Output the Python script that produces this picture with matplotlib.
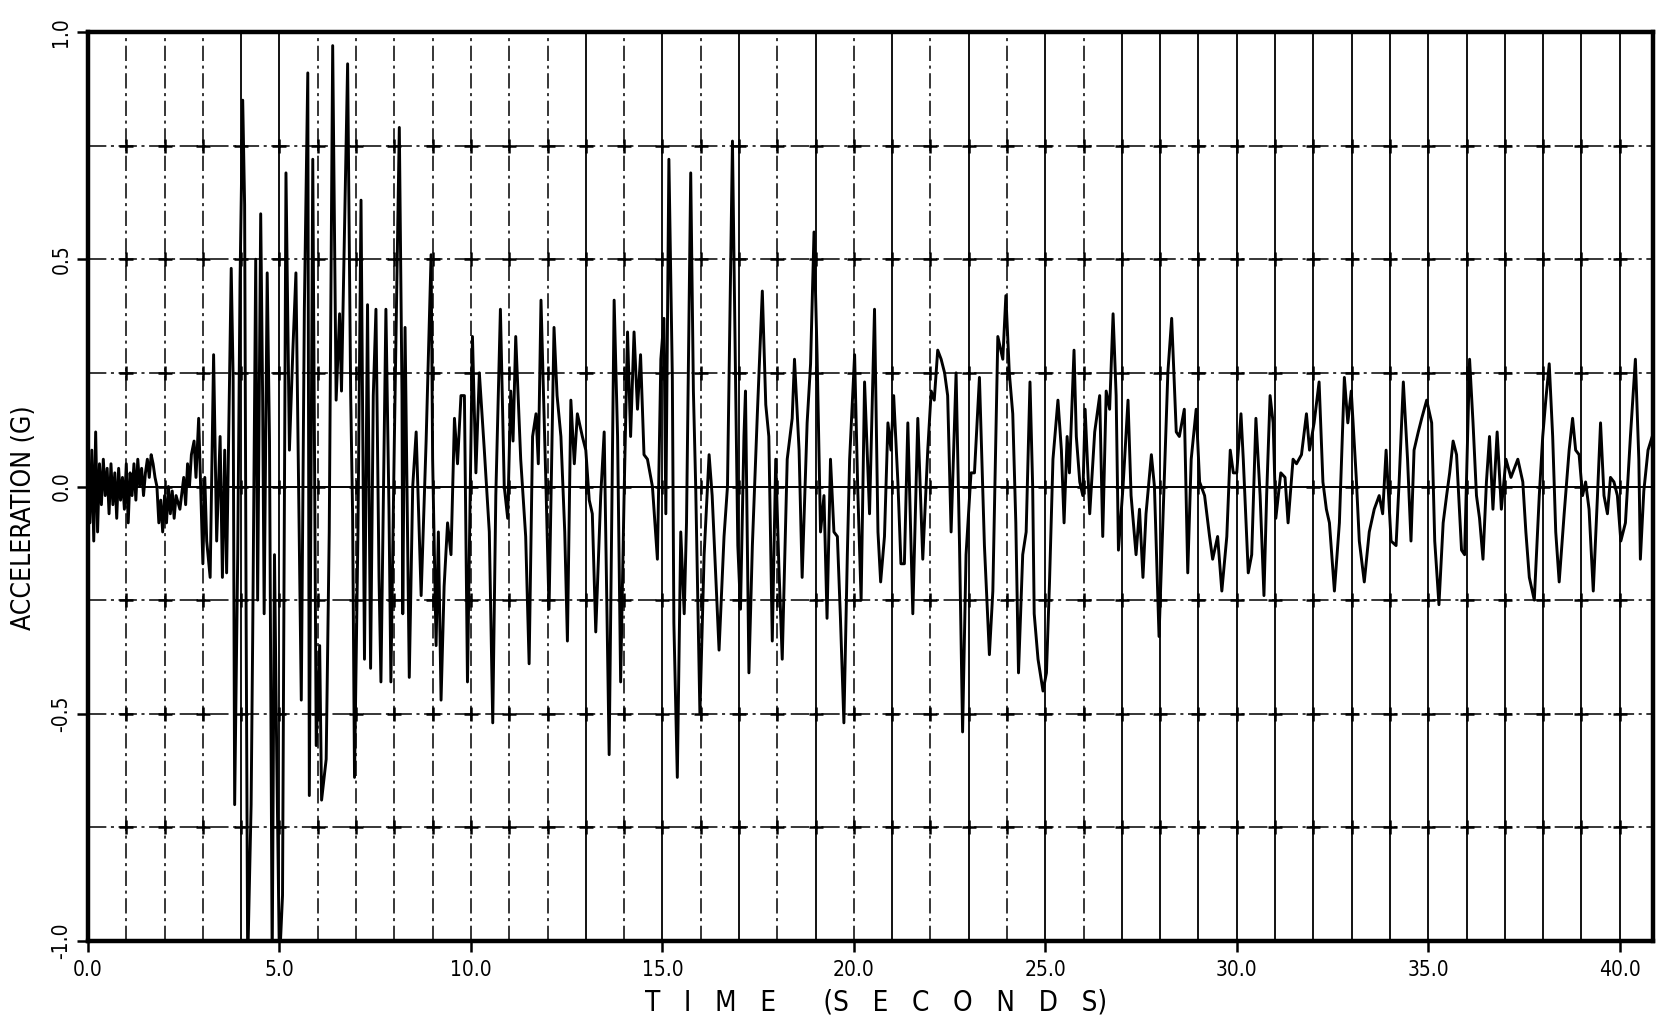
import matplotlib
matplotlib.use("Agg")
import matplotlib.pyplot as plt

# ---------------- data ----------------
time_s = [
    0.00, 0.05, 0.10, 0.15, 0.20, 0.25, 0.30, 0.35, 0.40, 0.45, 0.50, 0.55, 0.60, 0.65, 0.70, 0.75,
    0.80, 0.85, 0.90, 0.95, 1.00, 1.05, 1.10, 1.15, 1.20, 1.25, 1.30, 1.35, 1.40, 1.45, 1.50, 1.55,
    1.60, 1.65, 1.70, 1.75, 1.80, 1.85, 1.90, 1.95, 2.00, 2.05, 2.10, 2.15, 2.20, 2.25, 2.30, 2.40,
    2.50, 2.55, 2.60, 2.65, 2.70, 2.77, 2.82, 2.89, 3.00, 3.05, 3.10, 3.19, 3.28, 3.36, 3.45, 3.51,
    3.57, 3.62, 3.74, 3.79, 3.83, 3.91, 3.97, 4.04, 4.09, 4.13, 4.17, 4.22, 4.26, 4.30, 4.38, 4.43,
    4.51, 4.56, 4.60, 4.68, 4.74, 4.81, 4.87, 4.93, 5.00, 5.08, 5.17, 5.26, 5.35, 5.43, 5.57, 5.65,
    5.74, 5.78, 5.87, 5.96, 6.05, 6.10, 6.22, 6.30, 6.39, 6.48, 6.57, 6.62, 6.78, 6.86, 6.91, 6.96,
    7.05, 7.13, 7.22, 7.30, 7.38, 7.45, 7.52, 7.60, 7.65, 7.78, 7.86, 7.91, 8.00, 8.13, 8.20, 8.22,
    8.28, 8.39, 8.48, 8.57, 8.70, 8.83, 8.96, 9.00, 9.09, 9.15, 9.22, 9.30, 9.39, 9.48, 9.57, 9.65,
    9.74, 9.83, 9.91, 10.04, 10.13, 10.22, 10.35, 10.48, 10.57, 10.65, 10.77, 10.87, 10.96, 11.04,
    11.10, 11.17, 11.30, 11.43, 11.52, 11.61, 11.70, 11.76, 11.83, 11.96, 12.04, 12.17, 12.25, 12.35,
    12.45, 12.52, 12.61, 12.70, 12.78, 12.91, 13.00, 13.09, 13.17, 13.26, 13.39, 13.48, 13.61, 13.74,
    13.83, 13.91, 14.00, 14.09, 14.17, 14.26, 14.35, 14.43, 14.52, 14.61, 14.74, 14.87, 14.96, 15.04,
    15.09, 15.17, 15.26, 15.30, 15.39, 15.48, 15.57, 15.63, 15.74, 15.81, 15.87, 15.98, 16.09, 16.22,
    16.30, 16.48, 16.61, 16.70, 16.83, 16.91, 16.97, 17.04, 17.13, 17.17, 17.26, 17.35, 17.48, 17.61,
    17.70, 17.78, 17.87, 17.96, 18.04, 18.13, 18.26, 18.39, 18.45, 18.57, 18.65, 18.78, 18.87, 18.96,
    19.04, 19.13, 19.22, 19.30, 19.39, 19.48, 19.57, 19.65, 19.74, 19.83, 19.89, 20.02, 20.10, 20.19,
    20.28, 20.41, 20.54, 20.63, 20.70, 20.80, 20.89, 20.97, 21.04, 21.15, 21.23, 21.32, 21.41, 21.54,
    21.67, 21.80, 21.93, 22.02, 22.10, 22.19, 22.28, 22.37, 22.45, 22.54, 22.67, 22.76, 22.84, 22.93,
    23.06, 23.15, 23.28, 23.41, 23.54, 23.63, 23.76, 23.89, 23.97, 24.06, 24.15, 24.23, 24.30, 24.41,
    24.50, 24.60, 24.67, 24.71, 24.81, 24.94, 25.03, 25.11, 25.20, 25.33, 25.42, 25.49, 25.57, 25.63,
    25.75, 25.81, 25.90, 25.98, 26.04, 26.16, 26.29, 26.42, 26.50, 26.59, 26.68, 26.77, 26.85, 26.91,
    27.03, 27.16, 27.24, 27.37, 27.46, 27.55, 27.63, 27.77, 27.85, 27.97, 28.07, 28.20, 28.30, 28.42,
    28.50, 28.63, 28.72, 28.81, 28.94, 29.03, 29.16, 29.29, 29.37, 29.50, 29.61, 29.74, 29.83, 29.91,
    30.00, 30.11, 30.17, 30.30, 30.39, 30.50, 30.61, 30.71, 30.78, 30.87, 30.95, 31.02, 31.15, 31.26,
    31.34, 31.47, 31.56, 31.69, 31.82, 31.90, 32.02, 32.15, 32.25, 32.34, 32.42, 32.55, 32.68, 32.81,
    32.90, 32.99, 33.12, 33.20, 33.33, 33.46, 33.59, 33.72, 33.81, 33.90, 34.03, 34.16, 34.24, 34.35,
    34.46, 34.55, 34.63, 34.74, 34.83, 34.96, 35.09, 35.17, 35.28, 35.39, 35.48, 35.56, 35.65, 35.74,
    35.87, 35.95, 36.08, 36.17, 36.26, 36.34, 36.43, 36.52, 36.60, 36.69, 36.80, 36.91, 37.03, 37.16,
    37.34, 37.47, 37.55, 37.64, 37.77, 37.90, 37.99, 38.07, 38.16, 38.25, 38.33, 38.42, 38.55, 38.68,
    38.77, 38.85, 38.94, 39.03, 39.11, 39.20, 39.31, 39.42, 39.50, 39.59, 39.68, 39.76, 39.85, 39.94,
    40.03, 40.15, 40.28, 40.41, 40.50, 40.54, 40.63, 40.74, 40.85,
]

accel_g = [
    0.02, -0.08, 0.08, -0.12, 0.12, -0.10, 0.05, -0.04, 0.06, -0.02, 0.04, -0.06, 0.05, -0.04, 0.03, -0.07,
    0.04, -0.03, 0.02, -0.05, 0.05, -0.08, 0.03, -0.02, 0.05, -0.03, 0.06, 0.00, 0.04, -0.02, 0.03, 0.06,
    0.02, 0.07, 0.05, 0.02, 0.00, -0.08, -0.03, -0.10, -0.02, -0.08, 0.00, -0.06, -0.01, -0.07, -0.02, -0.05,
    0.02, -0.04, 0.05, 0.00, 0.07, 0.10, 0.02, 0.15, -0.17, 0.02, -0.12, -0.20, 0.29, -0.12, 0.11, -0.20,
    0.08, -0.19, 0.48, 0.24, -0.70, -0.15, 0.45, 0.85, 0.62, -0.30, -1.05, -0.85, -0.70, -0.34, 0.50, -0.25,
    0.60, 0.20, -0.28, 0.47, 0.10, -1.05, -0.15, -0.60, -1.05, -0.90, 0.69, 0.08, 0.30, 0.47, -0.47, 0.39,
    0.91, -0.68, 0.72, -0.57, -0.35, -0.69, -0.60, -0.10, 0.97, 0.19, 0.38, 0.21, 0.93, 0.20, -0.06, -0.64,
    -0.10, 0.63, -0.38, 0.40, -0.40, 0.20, 0.39, -0.20, -0.43, 0.39, -0.05, -0.43, 0.10, 0.79, 0.20, -0.28,
    0.35, -0.42, 0.00, 0.12, -0.24, 0.10, 0.51, 0.06, -0.35, -0.10, -0.47, -0.22, -0.08, -0.15, 0.15, 0.05,
    0.20, 0.20, -0.43, 0.33, 0.03, 0.25, 0.08, -0.10, -0.52, -0.02, 0.39, 0.00, -0.07, 0.21,
    0.10, 0.33, 0.06, -0.11, -0.39, 0.11, 0.16, 0.05, 0.41, 0.00, -0.27, 0.35, 0.20, 0.11,
    -0.10, -0.34, 0.19, 0.05, 0.16, 0.11, 0.08, -0.03, -0.06, -0.32, -0.02, 0.12, -0.59, 0.41,
    0.11, -0.43, -0.02, 0.34, 0.11, 0.34, 0.17, 0.29, 0.07, 0.06, 0.00, -0.16, 0.28, 0.37,
    -0.06, 0.72, 0.24, -0.30, -0.64, -0.10, -0.28, -0.08, 0.69, 0.21, 0.00, -0.50, -0.15, 0.07,
    -0.02, -0.36, -0.11, 0.00, 0.76, 0.24, -0.13, -0.27, 0.11, 0.21, -0.41, -0.13, 0.16, 0.43,
    0.18, 0.11, -0.34, 0.06, -0.17, -0.38, 0.06, 0.15, 0.28, 0.08, -0.20, 0.14, 0.27, 0.56,
    0.29, -0.10, -0.02, -0.29, 0.06, -0.10, -0.11, -0.29, -0.52, -0.15, 0.06, 0.29, 0.00, -0.25,
    0.23, -0.06, 0.39, -0.10, -0.21, -0.11, 0.14, 0.08, 0.20, 0.01, -0.17, -0.17, 0.14, -0.28,
    0.15, -0.16, 0.08, 0.21, 0.19, 0.30, 0.28, 0.25, 0.20, -0.10, 0.25, -0.13, -0.54, -0.15,
    0.03, 0.03, 0.24, -0.13, -0.37, -0.23, 0.33, 0.28, 0.42, 0.25, 0.16, -0.08, -0.41, -0.15,
    -0.10, 0.23, 0.00, -0.28, -0.38, -0.45, -0.41, -0.21, 0.06, 0.19, 0.08, -0.08, 0.11, 0.03,
    0.30, 0.11, 0.01, -0.02, 0.17, -0.06, 0.12, 0.20, -0.11, 0.21, 0.17, 0.38, 0.20, -0.14,
    0.00, 0.19, -0.02, -0.15, -0.05, -0.20, -0.06, 0.07, 0.00, -0.33, -0.08, 0.25, 0.37, 0.12,
    0.11, 0.17, -0.19, 0.06, 0.17, 0.01, -0.02, -0.11, -0.16, -0.11, -0.23, -0.11, 0.08, 0.03,
    0.03, 0.16, 0.06, -0.19, -0.15, 0.15, -0.02, -0.24, -0.02, 0.20, 0.14, -0.07, 0.03, 0.02,
    -0.08, 0.06, 0.05, 0.07, 0.16, 0.08, 0.14, 0.23, 0.01, -0.05, -0.08, -0.23, -0.08, 0.24,
    0.14, 0.21, 0.02, -0.12, -0.21, -0.10, -0.05, -0.02, -0.06, 0.08, -0.12, -0.13, 0.01, 0.23,
    0.06, -0.12, 0.08, 0.12, 0.15, 0.19, 0.14, -0.12, -0.26, -0.08, -0.02, 0.03, 0.10, 0.07,
    -0.14, -0.15, 0.28, 0.14, -0.02, -0.07, -0.16, 0.01, 0.11, -0.05, 0.12, -0.05, 0.06, 0.02,
    0.06, 0.01, -0.10, -0.20, -0.25, -0.02, 0.11, 0.19, 0.27, 0.11, -0.10, -0.21, -0.06, 0.08,
    0.15, 0.08, 0.07, -0.02, 0.01, -0.05, -0.23, -0.02, 0.14, -0.02, -0.06, 0.02, 0.01, -0.02,
    -0.12, -0.08, 0.11, 0.28, 0.06, -0.16, -0.01, 0.08, 0.11,
]

x_ticks = [0, 5, 10, 15, 20, 25, 30, 35, 40]
x_tick_labels = ["0.0", "5.0", "10.0", "15.0", "20.0", "25.0", "30.0", "35.0", "40.0"]
y_ticks = [-1.0, -0.5, 0.0, 0.5, 1.0]
y_tick_labels = ["-1.0", "-0.5", "0.0", "0.5", "1.0"]
x_grid = list(range(1, 41))
y_grid = [-0.75, -0.5, -0.25, 0.25, 0.5, 0.75]
dashed_verticals = [1, 2, 3, 6, 7, 8, 9, 10, 11, 12, 14, 16, 18, 20, 22, 24, 26]
x_label = "T   I   M   E      (S   E   C   O   N   D   S)"
y_label = "ACCELERATION (G)"

# ---------------- figure ----------------
FONT = ["DejaVu Sans"]
plt.rcParams["font.family"] = FONT
plt.rcParams["font.stretch"] = "condensed"

fig = plt.figure(figsize=(16.58, 10.23), dpi=100)
ax = fig.add_axes([88 / 1658, 1 - 941 / 1023, (1653 - 88) / 1658, (941 - 32) / 1023])
ax.set_xlim(0, 40.87)
ax.set_ylim(-1.0, 1.0)

# grid
for xg in x_grid:
    if xg in dashed_verticals:
        ax.axvline(xg, color="black", lw=1.1, ls=(0, (10, 3, 2, 3)), zorder=1)
    else:
        ax.axvline(xg, color="black", lw=1.3, zorder=1)
for yg in y_grid:
    ax.axhline(yg, color="black", lw=1.1, ls=(0, (12, 3, 2, 3)), zorder=1)
ax.axhline(0.0, color="black", lw=1.4, zorder=1)
# plus marks at intersections
for yg in y_grid + [0.0]:
    ax.plot(x_grid, [yg] * len(x_grid), ls="none", marker="+", ms=10, mew=1.8,
            color="black", zorder=1)

# data trace
ax.plot(time_s, accel_g, color="black", lw=2.1, zorder=3)

# spines
for s in ax.spines.values():
    s.set_linewidth(3.2)
    s.set_color("black")

ax.set_xticks(x_ticks)
ax.set_xticklabels(x_tick_labels, fontsize=15)
ax.set_yticks(y_ticks)
ax.set_yticklabels(y_tick_labels, fontsize=15, rotation=90, va="center")
ax.tick_params(axis="both", direction="out", length=8, width=1.8, colors="black", pad=6)
ax.tick_params(axis="y", pad=4)

fig.text(876 / 1658, 1 - 1002 / 1023, x_label, ha="center", va="center", fontsize=20)
fig.text(24 / 1658, 1 - 518 / 1023, y_label, ha="center", va="center", rotation=90, fontsize=19)

fig.savefig("out.png", dpi=100, facecolor="white")
